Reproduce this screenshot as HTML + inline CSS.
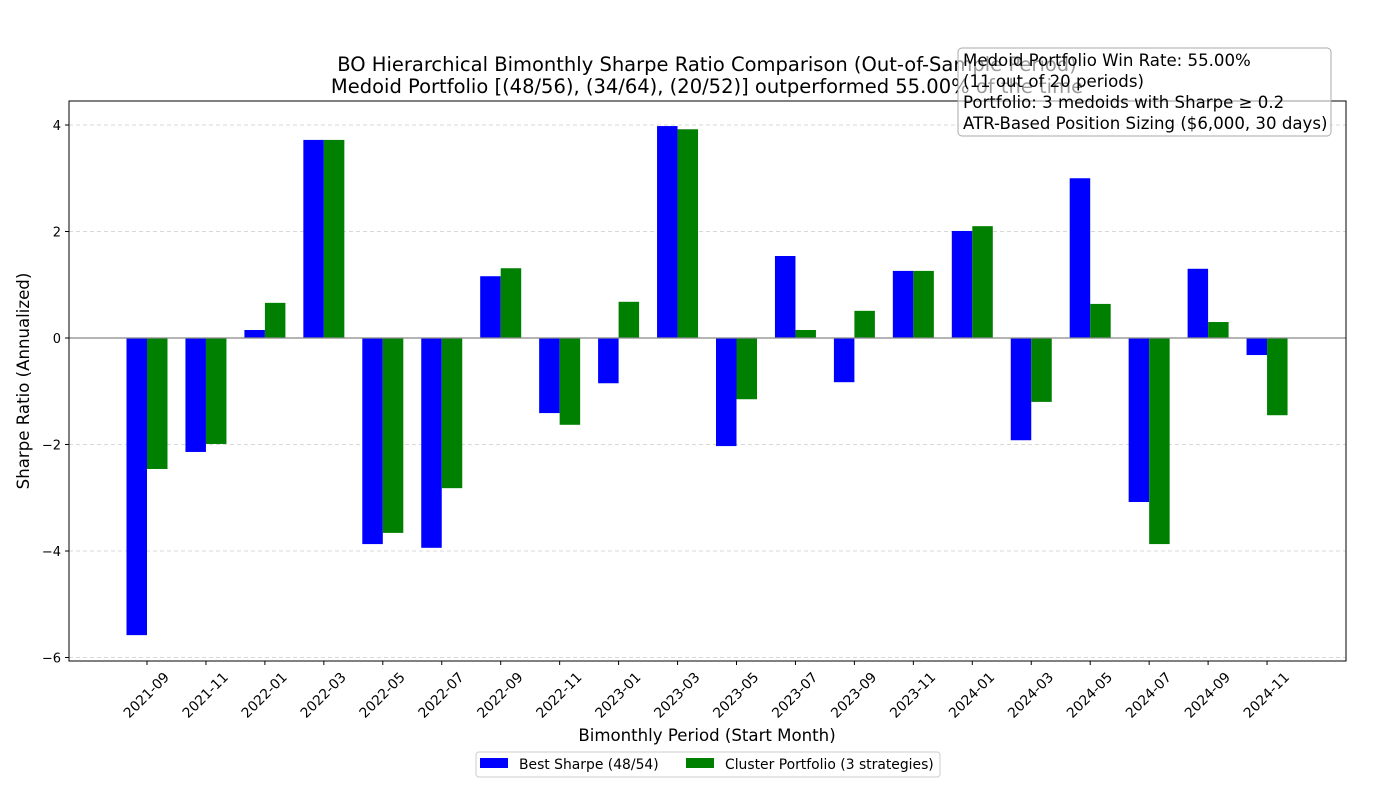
<!DOCTYPE html>
<html><head><meta charset="utf-8"><style>
body{margin:0;background:#fff}
svg{display:block;font-family:"DejaVu Sans","Liberation Sans",sans-serif}
</style></head><body>
<svg id="chart" width="1400" height="800">
<rect width="1400" height="800" fill="#fff"/>
<g id="grid"></g>
<g id="bars"></g>
<g id="axes"></g>
<text x="707" y="71" font-size="19.5" text-anchor="middle">BO Hierarchical Bimonthly Sharpe Ratio Comparison (Out-of-Sample Period)</text>
<text x="707" y="93" font-size="19.5" text-anchor="middle">Medoid Portfolio [(48/56), (34/64), (20/52)] outperformed 55.00% of the time</text>
<g>
<rect x="958" y="48" width="373" height="88" rx="4" fill="#fff" fill-opacity="0.6" stroke="#aaa"/>
<text x="963" y="66" font-size="16.6">Medoid Portfolio Win Rate: 55.00%</text>
<text x="963" y="87" font-size="16.6">(11 out of 20 periods)</text>
<text x="963" y="108" font-size="16.6">Portfolio: 3 medoids with Sharpe ≥ 0.2</text>
<text x="963" y="129" font-size="16.6">ATR-Based Position Sizing ($6,000, 30 days)</text>
</g>
<text x="707" y="741" font-size="16.6" text-anchor="middle">Bimonthly Period (Start Month)</text>
<text transform="translate(29,381) rotate(-90)" font-size="16.6" text-anchor="middle">Sharpe Ratio (Annualized)</text>
<g>
<rect x="476" y="752" width="464" height="25" rx="3" fill="#fff" stroke="#ccc"/>
<rect x="480" y="758" width="28" height="10" fill="#0000ff"/>
<text x="519" y="769" font-size="13.9">Best Sharpe (48/54)</text>
<rect x="686" y="758" width="28" height="10" fill="#008000"/>
<text x="725" y="769" font-size="13.9">Cluster Portfolio (3 strategies)</text>
</g>
</svg>
<script>
const categories=["2021-09","2021-11","2022-01","2022-03","2022-05","2022-07","2022-09","2022-11","2023-01","2023-03","2023-05","2023-07","2023-09","2023-11","2024-01","2024-03","2024-05","2024-07","2024-09","2024-11"];
const bestSharpe=[-5.58,-2.14,0.15,3.72,-3.87,-3.94,1.16,-1.41,-0.85,3.98,-2.03,1.54,-0.83,1.26,2.01,-1.92,3.00,-3.08,1.30,-0.32];
const clusterSharpe=[-2.46,-1.99,0.66,3.72,-3.66,-2.82,1.31,-1.63,0.68,3.92,-1.15,0.15,0.51,1.26,2.10,-1.20,0.64,-3.87,0.30,-1.45];
const yTicks=[-6,-4,-2,0,2,4];
const NS="http://www.w3.org/2000/svg";
const L=69,R=1346,T=101,B=661;
function y(v){return 338-v*53.25;}
function x(i){return 147+i*58.95;}
const bw=20.5;
function mk(tag,attrs,parent){const e=document.createElementNS(NS,tag);for(const k in attrs)e.setAttribute(k,attrs[k]);parent.appendChild(e);return e;}
const grid=document.getElementById('grid'),bars=document.getElementById('bars'),axes=document.getElementById('axes');
yTicks.forEach(t=>{
 const g=mk('line',{x1:L,x2:R,y1:y(t),y2:y(t),stroke:'#ccc','stroke-dasharray':'4,3','stroke-width':0.8},grid);
 
 
 mk('line',{x1:L-4,x2:L,y1:y(t),y2:y(t),stroke:'#000'},axes);
 const tx=mk('text',{x:L-8,y:y(t)+5,'font-size':13,'text-anchor':'end'},axes);
 tx.textContent=(t<0?'\u2212'+(-t):t);
 
 
});
categories.forEach((c,i)=>{
 const b=bestSharpe[i],g=clusterSharpe[i];
 const r1=mk('rect',{x:x(i)-bw,y:Math.min(y(b),y(0)),width:bw,height:Math.abs(y(b)-y(0)),fill:'#0000ff'},bars);
 
 
 const r2=mk('rect',{x:x(i),y:Math.min(y(g),y(0)),width:bw,height:Math.abs(y(g)-y(0)),fill:'#008000'},bars);
 
 
 mk('line',{x1:x(i),x2:x(i),y1:B,y2:B+4,stroke:'#000'},axes);
 const tx=mk('text',{transform:`translate(${x(i)+23},${B+17}) rotate(-45)`,'font-size':13.8,'text-anchor':'end'},axes);
 tx.textContent=c;
 
 
});
const zl=mk('line',{x1:L,x2:R,y1:y(0),y2:y(0),stroke:'#888','stroke-width':1.2},axes);


const fr=mk('rect',{x:L,y:T,width:R-L,height:B-T,fill:'none',stroke:'#000','stroke-width':1},axes);


</script>
</body></html>
